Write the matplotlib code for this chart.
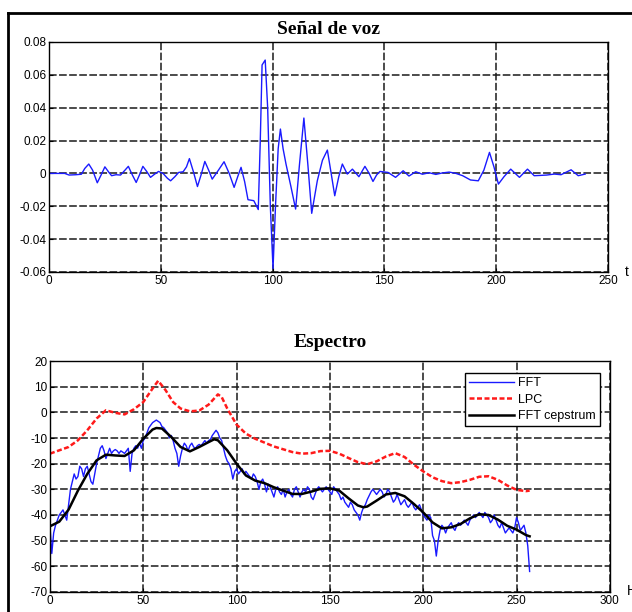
import matplotlib
matplotlib.use('Agg')
import matplotlib.pyplot as plt
import numpy as np
from matplotlib.lines import Line2D

# --- Senal de voz (time signal) ---
t_sig = [0, 7, 9, 12, 14.5, 16, 17.8, 19.5, 21.6, 23.3, 25, 26.6, 28, 30, 32, 34, 35.5,
         37.3, 39, 40.6, 42, 43.8, 45.4, 47.2, 49, 51, 53, 54.4, 56.3, 58, 60, 61.5, 62.8,
         64.6, 66.4, 68, 69.7, 71.4, 73, 75.8, 78.3, 80.6, 82.8, 84.4, 85.9, 87.5, 89, 91.6,
         93.6, 94.5, 95.3, 96.7, 97.8, 99, 100.2, 101.3, 102.5, 103.5, 104.7, 106, 108.2,
         110.3, 112, 114, 115.8, 117.5, 120, 122.3, 124.5, 126.2, 127.8, 129.6, 131.2,
         133.4, 135.7, 138.6, 141.3, 143.2, 144.9, 146.5, 148, 151.6, 155, 158.4, 161, 164,
         167, 170, 173, 176, 179, 182, 185, 188.5, 192, 194.5, 197, 199, 201, 203.5, 206.5,
         210.4, 214, 217, 220, 222.6, 226, 229, 233.5, 236.7, 239.8]
v_sig = [0.0, 0.0, -0.001, -0.0008, -0.0005, 0.003, 0.0057, 0.002, -0.0057, -0.001, 0.004,
         0.001, -0.0014, -0.0008, -0.001, 0.002, 0.0043, -0.001, -0.0055, -0.0005, 0.0043,
         0.001, -0.0024, -0.0005, 0.0012, 0.0, -0.003, -0.0045, -0.002, 0.0006, 0.001, 0.004,
         0.009, 0.001, -0.008, -0.001, 0.0073, 0.002, -0.0035, 0.002, 0.0071, 0.0, -0.0085,
         -0.002, 0.0037, -0.005, -0.016, -0.0166, -0.022, 0.02, 0.066, 0.069, 0.04, -0.02,
         -0.058, -0.02, 0.015, 0.027, 0.015, 0.0057, -0.008, -0.0217, 0.005, 0.0337, 0.005,
         -0.0243, -0.0045, 0.008, 0.0142, 0.0, -0.0136, -0.002, 0.0057, -0.0004, 0.0026,
         -0.002, 0.0043, 0.0, -0.0049, -0.001, 0.0012, 0.0006, -0.0024, 0.0016, -0.0016,
         0.001, -0.0005, 0.0004, -0.0006, 0.0003, 0.0008, 0.0, -0.0014, -0.004, -0.0045,
         0.002, 0.0128, 0.004, -0.0065, -0.002, 0.0026, -0.0024, 0.0026, -0.0014, -0.0012,
         -0.001, -0.0004, -0.0008, 0.0022, -0.0014, -0.0004]

# --- Espectro ---
f_fft = list(range(0, 258))
fft = [-44, -55, -47, -44, -42, -40, -39, -38, -40, -42, -36, -30, -27, -24, -26, -25, -21,
       -22, -25, -22, -21, -24, -27, -28, -24, -20, -17, -14, -13, -15, -18, -16, -14, -16,
       -15, -14.5, -15, -16, -15, -15.5, -16, -15, -14, -23, -16, -14, -13, -14, -12, -14,
       -11, -10, -8, -6, -5, -4, -3.5, -3, -3.5, -4, -5.5, -6, -7, -8, -10, -9, -11, -14,
       -16, -21, -17, -14, -12, -13, -15, -13, -12, -13.5, -14, -13, -12.5, -13, -12, -11,
       -12, -11, -10.5, -9, -8, -7, -8, -10, -11, -14, -17, -19, -20, -22, -26, -23, -22,
       -24, -23, -22, -24, -23, -24, -25, -26, -24, -25, -27, -30, -27, -26, -28, -31, -28,
       -29, -31, -33, -30, -29, -31, -32, -30, -33, -31, -30, -32, -33, -30, -29, -31, -33,
       -31, -30, -31, -29, -30, -33, -34, -32, -30, -29, -30, -31, -30, -29, -30, -31, -32,
       -29, -30, -31, -32, -34, -33, -35, -36, -37, -35, -36, -38, -39, -40, -42, -39, -37,
       -36, -34, -32.5, -31, -30, -31, -32, -31, -30, -31, -33, -32, -30, -31, -33, -35,
       -34, -32, -34, -36, -35, -34, -36, -37, -36, -35, -37, -38, -37, -36, -38, -40, -41,
       -42, -40, -41, -48, -50, -56, -50, -46, -44, -45, -47, -45, -44, -43, -45, -46, -44,
       -43, -44, -43, -42, -43, -44, -42, -41, -40, -41, -40, -39, -40, -41, -39, -40, -41,
       -43, -42, -40, -42, -44, -45, -43, -45, -47, -46, -45, -46, -47, -45, -41, -43, -46,
       -45, -44, -47, -52, -62]

f_lpc = [0, 10, 15, 20, 25, 30, 35, 40, 45, 50, 55, 58, 62, 66, 70, 75, 80, 85, 90, 92, 95,
         100, 105, 110, 120, 130, 135, 140, 145, 150, 155, 160, 165, 170, 175, 180, 185, 190,
         195, 200, 205, 210, 215, 220, 225, 230, 235, 240, 245, 250, 255, 257]
lpc = [-16.1, -13.5, -10.9, -7, -2.4, 0.8, -0.2, -0.8, 1.2, 4, 9.3, 12.3, 8.6, 4, 1.5, 0.4,
       0.7, 3, 7, 6, 1.5, -4.8, -8.3, -10.3, -13.3, -15.5, -16.1, -15.9, -15.1, -15, -16.1,
       -17.8, -19.4, -20.2, -19.1, -17.2, -15.9, -17.4, -20.4, -23, -25.3, -26.8, -27.6,
       -27.2, -26.3, -25.1, -24.9, -26.3, -28.5, -30.2, -30.7, -30.5]

f_cep = [0, 5, 10, 15, 20, 25, 30, 35, 40, 45, 50, 55, 57, 60, 65, 70, 75, 80, 85, 88, 90,
         95, 100, 105, 110, 115, 120, 125, 130, 135, 140, 145, 150, 155, 160, 165, 168, 170,
         175, 180, 185, 190, 195, 200, 205, 210, 215, 220, 225, 230, 235, 240, 245, 250, 255,
         257]
cep = [-44.4, -42.6, -37.9, -30.5, -24, -18.7, -16.5, -16.8, -17, -14.8, -10.3, -6.7, -6.1,
       -6.3, -9.6, -13.5, -15.2, -13.5, -11.6, -10.5, -10.9, -14.8, -20, -24.6, -26.6, -27.6,
       -29.2, -30.5, -31.8, -31.8, -30.9, -29.8, -29.6, -30.5, -33.5, -36.3, -37, -36.7,
       -34.4, -32, -31.4, -32.7, -35.7, -39, -42.9, -45.2, -44.8, -43.5, -41.3, -39.7, -40,
       -41.8, -44.2, -45.7, -47.8, -48.3]

sig_yticks = [-0.06, -0.04, -0.02, 0, 0.02, 0.04, 0.06, 0.08]
sig_ylabels = ['-0.06', '-0.04', '-0.02', '0', '0.02', '0.04', '0.06', '0.08']

plt.rcParams['font.family'] = 'Liberation Sans'
plt.rcParams['font.size'] = 8
plt.rcParams['axes.unicode_minus'] = False

fig = plt.figure(figsize=(6.32, 6.12), dpi=100)
fig.patch.set_facecolor('white')

gridstyle = dict(color='#1a1a1a', linewidth=1.1, linestyle=(0, (5, 1.6)))

ax1 = fig.add_axes([0.0775, 0.5556, 0.8845, 0.3758])
ax1.plot(t_sig, v_sig, color='#1a1aff', linewidth=1.0)
ax1.set_xlim(0, 250)
ax1.set_ylim(-0.06, 0.08)
ax1.set_xticks([0, 50, 100, 150, 200, 250])
ax1.set_yticks(sig_yticks)
ax1.set_yticklabels(sig_ylabels)
ax1.grid(True, **gridstyle)
ax1.set_title('Señal de voz', family='Liberation Serif', fontweight='bold', fontsize=14, pad=6)

ax2 = fig.add_axes([0.079, 0.0327, 0.886, 0.3774])
ax2.plot(f_fft, fft, color='#1a1aff', linewidth=1.0, label='FFT')
ax2.plot(f_lpc, lpc, color='#ff1a1a', linewidth=1.8, linestyle=(0, (2, 1)), label='LPC')
ax2.plot(f_cep, cep, color='black', linewidth=1.8, label='FFT cepstrum')
ax2.set_xlim(0, 300)
ax2.set_ylim(-70, 20)
ax2.set_xticks(np.arange(0, 301, 50))
ax2.set_yticks(np.arange(-70, 21, 10))
ax2.grid(True, **gridstyle)
ax2.set_title('Espectro', family='Liberation Serif', fontweight='bold', fontsize=14, pad=10)
leg = ax2.legend(loc='upper right', fancybox=False, edgecolor='black', framealpha=1,
                 handlelength=3.6, borderpad=0.35, labelspacing=0.35, handletextpad=0.3,
                 fontsize=9, bbox_to_anchor=(0.993, 0.976))
leg.get_frame().set_linewidth(1.0)

for ax in (ax1, ax2):
    ax.tick_params(direction='in', length=3, width=0.8, pad=2, labelsize=8.5)
    ax.set_axisbelow(True)
    for s in ax.spines.values():
        s.set_linewidth(1.0)

# axis unit letters cut by the image edge
fig.text(0.988, 0.555, 't', fontsize=10, ha='left', va='center')
fig.text(0.992, 0.034, 'Hz', fontsize=10, ha='left', va='center')

# screenshot frame
fig.add_artist(Line2D([0.012, 0.012], [0.0, 0.979], color='black', linewidth=2))
fig.add_artist(Line2D([0.012, 1.0], [0.979, 0.979], color='black', linewidth=2))

fig.savefig('out.png', dpi=100)
